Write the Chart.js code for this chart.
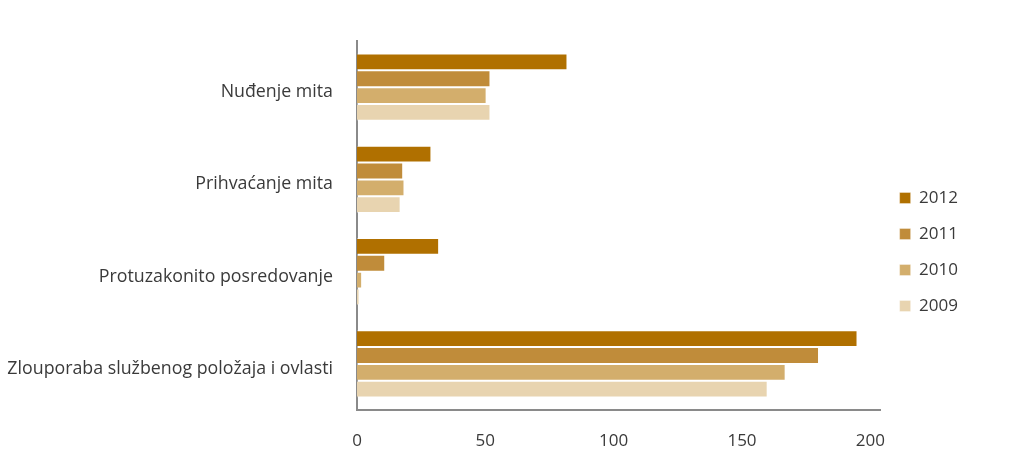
<!DOCTYPE html>
<html>
<head>
<meta charset="utf-8">
<script src="https://cdn.jsdelivr.net/npm/chart.js@4/dist/chart.umd.min.js"></script>
<style>
    html, body { margin: 0; padding: 0; background: #fff; }
    #wrap { width: 1030px; height: 457px; position: relative; }
</style>
</head>
<body>
<div id="wrap"><canvas id="offencesChart"></canvas></div>
<script>
// Data
const categories = [
    'Nuđenje mita',
    'Prihvaćanje mita',
    'Protuzakonito posredovanje',
    'Zlouporaba službenog položaja i ovlasti'
];
const years = ['2012', '2011', '2010', '2009'];
const values2012 = [82, 29, 32, 195];
const values2011 = [52, 18, 11, 180];
const values2010 = [50.5, 18.5, 2, 167];
const values2009 = [52, 17, 1, 160];
const xTicks = [0, 50, 100, 150, 200];

const colors = ['#b07000', '#c08c3a', '#d3ae6c', '#e8d4b0'];
const series = [values2012, values2011, values2010, values2009];

const fontFamily = '"Open Sans", Lato, sans-serif';
const textColor = '#3a3a3a';
const axisColor = '#8a8a8a';

// nudge the legend block down a little, like in the source
const legendShift = {
    id: 'legendShift',
    afterLayout(chart) {
        const legend = chart.legend;
        if (!legend) return;
        legend.top += 3;
        legend.bottom += 3;
    }
};

document.addEventListener('DOMContentLoaded', function() {
    const ctx = document.getElementById('offencesChart').getContext('2d');

    new Chart(ctx, {
        type: 'bar',
        data: {
            labels: categories,
            datasets: years.map((year, i) => ({
                label: year,
                data: series[i],
                backgroundColor: colors[i],
                borderColor: 'rgba(255,255,255,0.35)',
                borderWidth: 1,
                categoryPercentage: 0.727,
                barPercentage: 1.0
            }))
        },
        options: {
            indexAxis: 'y',
            responsive: true,
            maintainAspectRatio: false,
            animation: false,
            layout: {
                padding: { top: 41, right: 62, bottom: 0, left: 0 }
            },
            plugins: {
                legend: {
                    position: 'right',
                    labels: {
                        boxWidth: 11,
                        boxHeight: 11,
                        padding: 19,
                        color: textColor,
                        font: { family: fontFamily, size: 17 }
                    }
                },
                tooltip: { enabled: false }
            },
            scales: {
                x: {
                    min: 0,
                    max: 204,
                    afterBuildTicks: scale => {
                        scale.ticks = xTicks.map(v => ({ value: v }));
                    },
                    afterFit: scale => { scale.height = 47; },
                    grid: { display: false },
                    border: { color: axisColor, width: 2 },
                    ticks: {
                        color: textColor,
                        padding: 13,
                        font: { family: fontFamily, size: 17 }
                    }
                },
                y: {
                    afterFit: scale => { scale.width = 357; },
                    grid: { display: false },
                    border: { color: axisColor, width: 2 },
                    ticks: {
                        color: textColor,
                        padding: 16,
                        labelOffset: 5,
                        font: { family: fontFamily, size: 17.8 }
                    }
                }
            }
        },
        plugins: [legendShift]
    });
});
</script>
</body>
</html>
